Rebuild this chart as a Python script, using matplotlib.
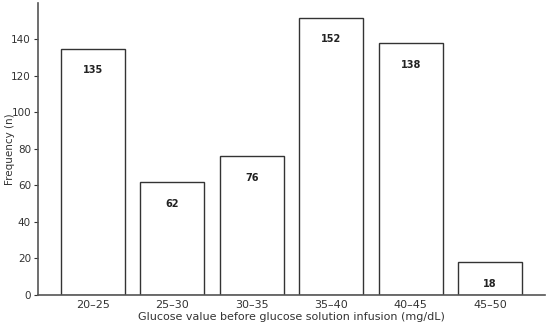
import matplotlib.pyplot as plt

# Glucose frequency data
categories = ['20–25', '25–30', '30–35', '35–40', '40–45', '45–50']
frequencies = [135, 62, 76, 152, 138, 18]

fig = plt.figure(figsize=(5.5, 3.23), dpi=100)
ax = fig.add_axes([0.069, 0.087, 0.922, 0.904])

bars = ax.bar(categories, frequencies, width=0.8, color='white',
              edgecolor='#333333', linewidth=1.0)

for i, v in enumerate(frequencies):
    ax.text(i, v - 12, str(v), ha='center', va='center',
            fontsize=7, fontweight='bold', color='#222222')

ax.set_ylim(0, 160)
ax.set_yticks(range(0, 141, 20))
ax.set_ylabel('Frequency (n)', fontsize=7.5, color='#333333')
ax.yaxis.set_label_coords(-0.046, 0.5)
ax.set_xlabel('Glucose value before glucose solution infusion (mg/dL)',
              fontsize=8, color='#333333', labelpad=1)

for side in ['top', 'right']:
    ax.spines[side].set_visible(False)
for side in ['left', 'bottom']:
    ax.spines[side].set_color('#555555')
    ax.spines[side].set_linewidth(1.2)

ax.tick_params(axis='both', colors='#333333', length=3, width=0.8, pad=2)
ax.tick_params(axis='y', labelsize=7.5)
ax.tick_params(axis='x', labelsize=8, length=0, pad=4)

fig.savefig('out.png', dpi=100)
